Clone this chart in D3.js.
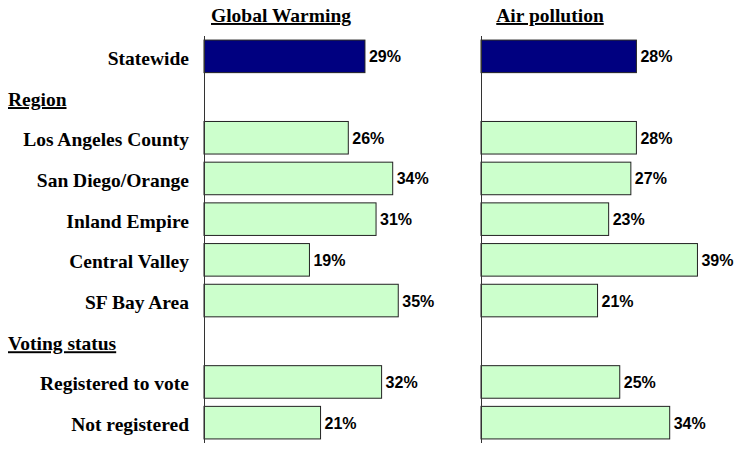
<!DOCTYPE html>
<html>
<head>
<meta charset="utf-8">
<script src="https://cdn.jsdelivr.net/npm/d3@7"></script>
<style>
html,body{margin:0;padding:0;background:#fff;}
svg{display:block;}
.serif{font-family:'Liberation Serif','Times New Roman',Times,serif;font-weight:bold;font-size:19.5px;}
.sans{font-family:'Liberation Sans',Arial,sans-serif;font-weight:bold;font-size:16px;}
</style>
</head>
<body>
<svg id="chart" width="736" height="456"></svg>
<script>
// Rows (in order); section headers have no bar
const rows = ["Statewide", "Region", "Los Angeles County", "San Diego/Orange", "Inland Empire", "Central Valley", "SF Bay Area", "Voting status", "Registered to vote", "Not registered"];
const headers = ["Region", "Voting status"];
const categories = ["Statewide", "Los Angeles County", "San Diego/Orange", "Inland Empire", "Central Valley", "SF Bay Area", "Registered to vote", "Not registered"];
const globalWarming = [29, 26, 34, 31, 19, 35, 32, 21];
const airPollution = [28, 28, 27, 23, 39, 21, 25, 34];
const panelTitles = ["Global Warming", "Air pollution"];

const svg = d3.select("#chart");

const y = d3.scaleBand().domain(rows).range([36, 443]).paddingInner(0.2).paddingOuter(0.1);
const x = d3.scaleLinear().domain([0, 100]).range([0, 555]);

const panels = [
  {title: panelTitles[0], values: globalWarming, x0: 204, titleX: 281},
  {title: panelTitles[1], values: airPollution, x0: 481, titleX: 550}
];

// Category labels
svg.append("g").selectAll("text").data(categories).join("text")
  .attr("class", "serif")
  .attr("x", 189)
  .attr("y", d => y(d) + y.bandwidth() / 2 + 8.5)
  .attr("text-anchor", "end")
  .attr("fill", "#000")
  .text(d => d);

// Section headers
svg.append("g").selectAll("text").data(headers).join("text")
  .attr("class", "serif")
  .attr("x", 8)
  .attr("y", d => y(d) + y.bandwidth() / 2 + 9)
  .attr("text-anchor", "start")
  .attr("text-decoration", "underline")
  .attr("fill", "#000")
  .text(d => d);

panels.forEach(p => {
  const g = svg.append("g").attr("transform", `translate(${p.x0},0)`);
  const data = categories.map((c, i) => ({cat: c, v: p.values[i], i}));

  g.selectAll("rect").data(data).join("rect")
    .attr("x", x(0))
    .attr("y", d => y(d.cat))
    .attr("width", d => x(d.v))
    .attr("height", y.bandwidth())
    .attr("fill", d => d.i === 0 ? "#000080" : "#CCFFCC")
    .attr("stroke", "#222")
    .attr("stroke-width", 1);

  g.selectAll("text.val").data(data).join("text")
    .attr("class", "val sans")
    .attr("x", d => x(d.v) + 4)
    .attr("y", d => y(d.cat) + y.bandwidth() / 2 + 6)
    .attr("fill", "#000")
    .text(d => d.v + "%");

  // axis line
  const ax = g.append("g").call(d3.axisLeft(y).tickSize(0).tickFormat(""));
  ax.select(".domain").attr("stroke", "#333").attr("d", `M0.5,${y.range()[0]}V${y.range()[1]}`);

  svg.append("text")
    .attr("class", "serif")
    .attr("x", p.titleX)
    .attr("y", 22)
    .attr("text-anchor", "middle")
    .attr("text-decoration", "underline")
    .attr("fill", "#000")
    .text(p.title);
});
</script>
</body>
</html>
